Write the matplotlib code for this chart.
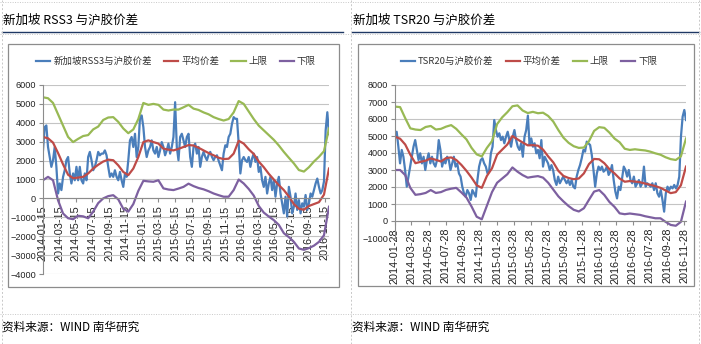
import numpy as np
import pandas as pd
import matplotlib
matplotlib.use("Agg")
import matplotlib.pyplot as plt
from matplotlib.lines import Line2D
from matplotlib.patches import Rectangle

plt.rcParams['font.family'] = ['Noto Sans CJK SC', 'DejaVu Sans']

# ---- left chart: RSS3 spread ----
left_start, left_end = '2014-01-15', '2016-11-30'
left_spread = [
    2540, 3770, 3860, 2720, 2190, 1670, 2020, 2720, 1670, 260,
    790, 440, 1140, 1490, 2020, 2190, 1320, 790, 1320, 960,
    1670, 960, 1670, 960, 790, 1320, 960, 2190, 2460, 2020,
    1490, 1670, 2020, 2460, 2280, 2370, 2370, 2540, 2280, 1670,
    1140, 1320, 1140, 1490, 1140, 960, 1400, 960, 610, 1320,
    1140, 2020, 3070, 3250, 2720, 3420, 2190, 2720, 4300, 4390,
    3770, 2720, 2190, 2540, 2720, 3070, 2540, 2370, 2720, 2190,
    2540, 2980, 2720, 2280, 2540, 2900, 2370, 2720, 3250, 5090,
    2720, 2020, 3250, 3420, 3070, 2720, 3250, 3420, 2190, 1670,
    2720, 2900, 2370, 2720, 1670, 2200, 2460, 2200, 2020, 2300,
    2460, 2200, 2020, 2200, 2280, 2000, 1750, 1490, 2370, 2810,
    2720, 3250, 3420, 3950, 4300, 4210, 4210, 2900, 1320, 2020,
    2190, 2020, 1930, 2190, 1670, 2110, 2370, 1930, 2190, 1400,
    1670, 960, 610, 1140, 260, 790, 1140, 440, 960, 90,
    790, 1140, 260, -260, -790, 90, -960, 610, 90, -790,
    -440, 260, -610, -90, -790, -260, -440, 180, -610, -260,
    260, 90, 440, 790, 1050, 610, 260, 440, 900, 3600,
    4560, 3400,
]
left_mean = [
    3250, 3180, 2950, 2400, 1800, 1250, 1070, 1100, 1140, 1320,
    1580, 1780, 1950, 2050, 2020, 1750, 1400, 1230, 1580, 2190,
    2980, 3070, 2980, 2900, 2630, 2580, 2540, 2620, 2720, 2820,
    2800, 2680, 2540, 2400, 2280, 2150, 2080, 2100, 2370, 3050,
    2900, 2600, 2350, 1950, 1650, 1300, 1000, 700, 440, 100,
    -300, -550, -600, -400, -300, -200, 200, 1580,
]
left_upper = [
    5350, 5300, 5050, 4450, 3850, 3250, 2980, 3150, 3300, 3350,
    3650, 3800, 4150, 4280, 4300, 4050, 3700, 3450, 3650, 4200,
    5050, 4950, 5000, 4950, 4700, 4650, 4700, 4700, 4820, 4950,
    4750, 4680, 4550, 4450, 4300, 4200, 4120, 4200, 4550, 5150,
    5000, 4600, 4200, 3850, 3600, 3350, 3100, 2800, 2460, 2150,
    1850, 1500, 1420, 1650, 1950, 2200, 2500, 3700,
]
left_lower = [
    960, 1140, 960, -100, -800, -1050, -1100, -920, -950, -1050,
    -700, -250, 0, 120, 170, -50, -550, -700, -300, 400,
    930, 900, 880, 960, 530, 470, 440, 520, 610, 780,
    650, 550, 480, 380, 260, 170, 90, 90, 440, 1000,
    790, 500, 150, -400, -750, -960, -1150, -1400, -1840, -2050,
    -2300, -2650, -2720, -2630, -2500, -2300, -1950, -440,
]

# ---- right chart: TSR20 spread ----
right_start, right_end = '2014-01-28', '2016-12-04'
right_spread = [
    4960, 5250, 4370, 3390, 4180, 3780, 3000, 2020, 2610, 3200,
    3780, 4370, 4760, 4180, 3590, 3980, 3390, 3780, 3000, 3590,
    3980, 3390, 3780, 3390, 3200, 3590, 4760, 4180, 3200, 3590,
    3390, 3780, 3590, 3000, 3390, 3780, 3200, 3390, 2800, 2610,
    2020, 1630, 1430, 1820, 1630, 1240, 1820, 1630, 1430, 2410,
    3200, 3590, 3690, 3390, 3200, 2800, 3000, 3980, 4370, 5940,
    5350, 4960, 5160, 4760, 4960, 4570, 4960, 5250, 4760, 4370,
    4960, 5350, 4760, 4370, 4180, 4570, 3780, 4960, 5350, 6200,
    4470, 4860, 4370, 4570, 3980, 4180, 3690, 4760, 3200, 3780,
    3590, 3390, 3000, 3290, 3000, 2410, 2120, 2610, 2220, 2410,
    2610, 2410, 2220, 2410, 2120, 2410, 2020, 1920, 2610, 3000,
    3290, 3690, 4180, 4080, 4670, 4570, 4470, 3880, 3000, 2020,
    2800, 3200, 3000, 3200, 2900, 3000, 3200, 2710, 2900, 3290,
    2410, 1730, 1330, 2020, 1820, 2510, 3200, 3000, 2610, 3000,
    2410, 2220, 2610, 2020, 2220, 2410, 2020, 2220, 3200, 2020,
    2220, 2120, 2020, 2220, 1820, 2220, 1630, 1430, 1820, 1240,
    550, 1630, 2020, 1820, 2020, 1920, 2120, 1920, 2120, 2610,
    4960, 6140, 6530, 5940,
]
right_mean = [
    4960, 4840, 4500, 3900, 3400, 3480, 3550, 3680, 3600, 3500,
    3700, 3740, 3590, 3300, 2950, 2550, 2100, 1950, 2650, 3100,
    3900, 4200, 4500, 5000, 4800, 4620, 4450, 4460, 4430, 4200,
    3800, 3450, 2950, 2650, 2530, 2460, 2500, 2800, 3350, 3650,
    3630, 3400, 3050, 2800, 2500, 2310, 2350, 2320, 2280, 2200,
    2130, 2050, 1950, 1800, 1640, 1700, 2100, 3200,
]
right_upper = [
    6730, 6700, 6050, 5450, 5380, 5350, 5530, 5590, 5380, 5420,
    5550, 5640, 5420, 5100, 4800, 4300, 3920, 3800, 4300, 4700,
    5700, 6100, 6400, 6750, 6800, 6500, 6350, 6420, 6340, 6370,
    6180, 5850, 5350, 4900, 4600, 4400, 4300, 4320, 4700, 5300,
    5520, 5480, 5200, 4850, 4630, 4250, 4180, 4220, 4180, 4150,
    4080, 3980, 3900, 3750, 3640, 3590, 3800, 4850,
]
right_lower = [
    3000, 3000, 2700, 1950, 1540, 1580, 1650, 1820, 1650, 1700,
    1830, 1900, 1950, 1680, 1380, 850, 250, 100, 900, 1700,
    2250, 2500, 2750, 3150, 2900, 2700, 2550, 2600, 2640, 2550,
    2250, 1850, 1450, 1150, 880, 660, 560, 750, 1250, 1730,
    1820, 1530, 1120, 830, 450, 400, 440, 400, 360, 280,
    220, 160, 160, -50, -230, -280, -50, 1140,
]

left_title = '新加坡 RSS3 与沪胶价差'
right_title = '新加坡 TSR20 与沪胶价差'
left_names = ['新加坡RSS3与沪胶价差', '平均价差', '上限', '下限']
right_names = ['TSR20与沪胶价差', '平均价差', '上限', '下限']
source = '资料来源：WIND 南华研究'

colors = ['#4A7EBB', '#BE4B48', '#98B954', '#7D60A0']
W, H = 701, 344
fig = plt.figure(figsize=(W / 100, H / 100), dpi=100)


def box(x0, y0, x1, y1):
    # pixel box (top-left origin) -> figure fraction rect
    return [x0 / W, 1 - y1 / H, (x1 - x0) / W, (y1 - y0) / H]


def panel(rect, start, end, series, names, ylim, tick_day, legend_xy):
    ax = fig.add_axes(rect)
    for vals, name, c in zip(series, names, colors):
        d = pd.date_range(start, end, periods=len(vals))
        ax.plot(d, vals, color=c, lw=1.6, label=name, solid_joinstyle='round')
    ax.set_xlim(pd.Timestamp(start), pd.Timestamp(end))
    ax.set_ylim(*ylim)
    ax.set_yticks(np.arange(ylim[0], ylim[1] + 1, 1000))
    ticks = pd.date_range('2014-01-01', '2016-11-01', freq='2MS') + pd.Timedelta(days=tick_day - 1)
    ax.set_xticks(ticks)
    ax.set_xticklabels([t.strftime('%Y-%m-%d') for t in ticks])
    ax.tick_params(axis='x', labelrotation=90, labelsize=7.8)
    ax.tick_params(axis='y', labelsize=6.6)
    ax.tick_params(axis='both', length=3, color='#8c8c8c', pad=2, labelcolor='#222222',
                   labelfontfamily='Liberation Sans')
    ax.grid(axis='y', color='#c4c4c4', lw=0.8)
    ax.set_axisbelow(True)
    for s in ('top', 'right'):
        ax.spines[s].set_visible(False)
    ax.spines['bottom'].set_position(('data', 0))
    ax.spines['left'].set_color('#8c8c8c')
    ax.spines['bottom'].set_color('#8c8c8c')
    fig.legend(handles=ax.get_lines(), labels=names, loc='center',
               bbox_to_anchor=(legend_xy[0] / W, 1 - legend_xy[1] / H), ncol=4,
               frameon=False, fontsize=6.8, handlelength=1.5, handletextpad=0.3,
               columnspacing=1.3, labelcolor='#333333')
    return ax


panel(box(43, 85, 329, 274), left_start, left_end,
      [left_spread, left_mean, left_upper, left_lower], left_names,
      (-4000, 6000), 15, (176, 61))
panel(box(395, 85, 686, 238), right_start, right_end,
      [right_spread, right_mean, right_upper, right_lower], right_names,
      (-1000, 8000), 28, (529, 61))

# chart frames, title rules, page separators
for x0, y0, x1, y1 in [(8, 44, 339, 287), (358, 44, 694, 286)]:
    fig.patches.append(Rectangle((x0 / W, 1 - y1 / H), (x1 - x0) / W, (y1 - y0) / H,
                                 transform=fig.transFigure, fill=False,
                                 edgecolor='#8c8c8c', lw=0.9))
for x0, x1 in [(2, 343), (352, 699)]:
    fig.lines.append(Line2D([x0 / W, x1 / W], [1 - 32 / H] * 2, transform=fig.transFigure,
                            color='#1F3864', lw=1.0))
for x in [2, 350.5, 699]:
    fig.lines.append(Line2D([x / W] * 2, [0, 1], transform=fig.transFigure,
                            color='#c8c8c8', lw=0.7, ls=(0, (2, 2))))
for y in [2, 34, 313.5]:
    fig.lines.append(Line2D([0, 1], [1 - y / H] * 2, transform=fig.transFigure,
                            color='#c8c8c8', lw=0.7, ls=(0, (1, 1.5))))

fig.text(3 / W, 1 - 20 / H, left_title, fontsize=9, va='center', ha='left')
fig.text(353 / W, 1 - 20 / H, right_title, fontsize=9, va='center', ha='left')
fig.text(2 / W, 1 - 327 / H, source, fontsize=8.4, va='center', ha='left')
fig.text(352 / W, 1 - 327 / H, source, fontsize=8.4, va='center', ha='left')

fig.savefig('out.png', dpi=100)
